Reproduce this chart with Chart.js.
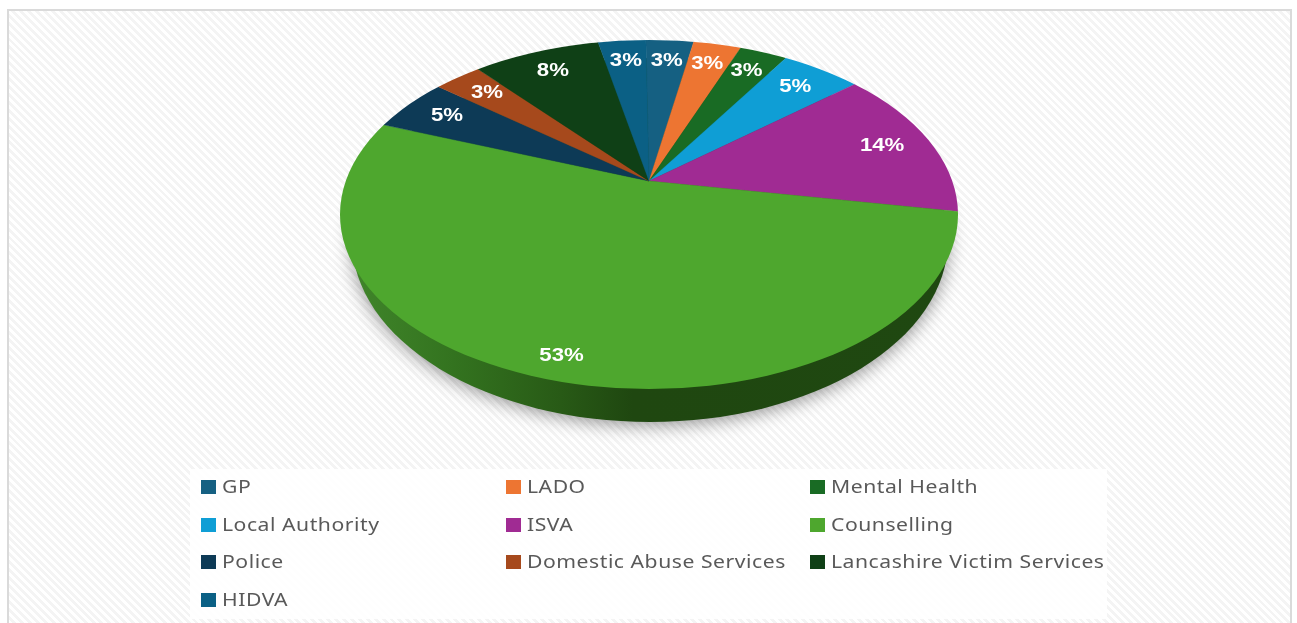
<!DOCTYPE html>
<html>
<head>
<meta charset="utf-8">
<title>Referral sources</title>
<script src="https://cdn.jsdelivr.net/npm/chart.js@4"></script>
<style>
  html, body { margin: 0; padding: 0; background: #fff; overflow: hidden; }
  #frame {
    position: absolute; left: 7px; top: 9px; width: 1281px; height: 620px;
    border: 2px solid #dadada;
    background: repeating-linear-gradient(45deg, #ffffff 0 2.8px, #f4f4f4 2.8px 5.6px);
  }
  #legendPanel {
    position: absolute; left: 190px; top: 469px; width: 917px; height: 150px;
    background: rgba(255, 255, 255, 0.86);
  }
  canvas { position: absolute; left: 0; top: 0; }
</style>
</head>
<body>
<div id="frame"></div>
<div id="legendPanel"></div>
<canvas id="pie" width="1297" height="623"></canvas>
<script>
const sources = ['GP', 'LADO', 'Mental Health', 'Local Authority', 'ISVA', 'Counselling',
                 'Police', 'Domestic Abuse Services', 'Lancashire Victim Services', 'HIDVA'];
const shares = [3, 3, 3, 5, 14, 53, 5, 3, 8, 3];
const sliceColours = ['#156082', '#ED7532', '#196B24', '#0F9ED5', '#A02B93', '#4EA72E',
                      '#0D3A56', '#A6491C', '#0F4016', '#0B6085'];

// Tilted disc: the rim is an ellipse, and the hub sits above its centre because of perspective.
const hub = { x: 649, y: 181 };
const rim = { x: 649, y: 214.5, rx: 309, ry: 174.5 };
const wall = { x: 650, y: 240, rx: 298, ry: 182 };
const view = { sx: 303, sy: 168, lean: 0.192 };
const labelRadius = 0.83;
const largeSliceLabelRadius = 0.9;
const textStretch = { label: 1.27, legend: 1.175 };

// Maps a point on the flat disc (polar, clockwise from 12 o'clock) to the tilted view.
function project(theta, r) {
  const x = r * Math.sin(theta), y = -r * Math.cos(theta);
  const w = 1 - view.lean * y;
  return { x: hub.x + view.sx * x / w, y: hub.y + view.sy * y / w };
}

const tiltedDisc = {
  id: 'tiltedDisc',
  beforeDatasetsDraw(chart) {
    const ctx = chart.ctx;
    ctx.save();
    const side = ctx.createLinearGradient(wall.x - wall.rx, 0, wall.x + wall.rx, 0);
    side.addColorStop(0, '#40852a');
    side.addColorStop(0.17, '#33731f');
    side.addColorStop(0.35, '#285a16');
    side.addColorStop(0.47, '#1f4710');
    side.addColorStop(1, '#1f4811');
    ctx.shadowColor = 'rgba(0,0,0,0.42)';
    ctx.shadowBlur = 18;
    ctx.shadowOffsetY = 3;
    ctx.fillStyle = side;
    ctx.beginPath();
    ctx.ellipse(wall.x, wall.y, wall.rx, wall.ry, 0, 0, Math.PI * 2);
    ctx.fill();
    ctx.restore();

    // Slices are clipped to the rim and squashed about the hub.
    ctx.save();
    ctx.beginPath();
    ctx.ellipse(rim.x, rim.y, rim.rx, rim.ry, 0, 0, Math.PI * 2);
    ctx.clip();
    ctx.translate(hub.x, hub.y);
    ctx.scale(1, view.sy / view.sx);
    ctx.translate(-hub.x, -hub.y);
  },
  afterDatasetsDraw(chart) {
    const ctx = chart.ctx;
    ctx.restore();

    // Percentage labels placed part-way along each slice's mid-line.
    ctx.save();
    ctx.fillStyle = '#ffffff';
    ctx.font = 'bold 17.5px "Liberation Sans"';
    ctx.textAlign = 'center';
    ctx.textBaseline = 'middle';
    chart.getDatasetMeta(0).data.forEach((arc, i) => {
      const mid = (arc.startAngle + arc.endAngle) / 2 + Math.PI / 2;
      const p = project(mid, shares[i] > 50 ? largeSliceLabelRadius : labelRadius);
      ctx.save();
      ctx.translate(p.x, p.y);
      ctx.scale(textStretch.label, 1);
      ctx.fillText(shares[i] + '%', 0, 0);
      ctx.restore();
    });
    ctx.restore();

    // Three-column legend under the disc.
    const colX = [201, 506, 810];
    const rowY = [487, 525, 562, 600];
    ctx.save();
    ctx.font = '18px "Noto Sans"';
    ctx.letterSpacing = '0.45px';
    ctx.textBaseline = 'middle';
    sources.forEach((name, i) => {
      const x = colX[i % 3], y = rowY[Math.floor(i / 3)];
      ctx.fillStyle = sliceColours[i];
      ctx.fillRect(x, y - 7, 15, 14);
      ctx.fillStyle = '#595959';
      ctx.save();
      ctx.translate(x + 21, y + 1);
      ctx.scale(textStretch.legend, 1);
      ctx.fillText(name, 0, 0);
      ctx.restore();
    });
    ctx.restore();
  }
};

new Chart(document.getElementById('pie'), {
  type: 'pie',
  data: {
    labels: sources,
    datasets: [{
      data: shares,
      backgroundColor: sliceColours,
      borderColor: sliceColours,
      borderWidth: 0.5,
      radius: 520,
      clip: false
    }]
  },
  options: {
    responsive: false,
    animation: false,
    events: [],
    rotation: -0.7,
    layout: { padding: { bottom: 261, right: 0, left: 1 } },
    plugins: { legend: { display: false }, tooltip: { enabled: false } }
  },
  plugins: [tiltedDisc]
});
</script>
</body>
</html>
